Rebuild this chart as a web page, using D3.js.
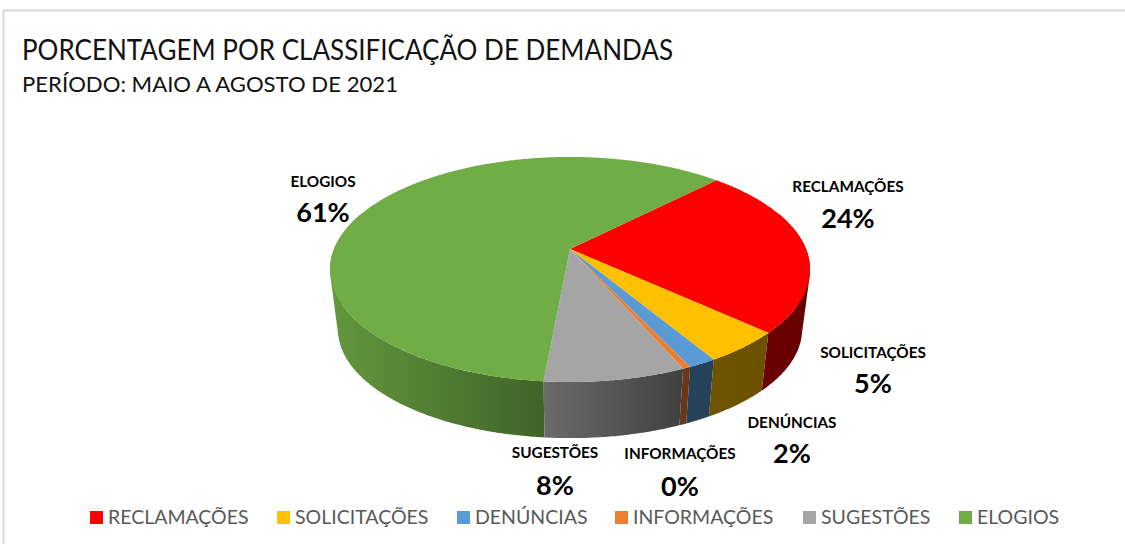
<!DOCTYPE html>
<html><head><meta charset="utf-8">
<script src="https://cdn.jsdelivr.net/npm/d3@7"></script>
<style>html,body{margin:0;padding:0;background:#fff;overflow:hidden}svg{display:block}text{font-family:Lato,"Open Sans",sans-serif}</style>
</head><body><svg id="c" width="1125" height="544"></svg>
<script>
const categories=["RECLAMAÇÕES","SOLICITAÇÕES","DENÚNCIAS","INFORMAÇÕES","SUGESTÕES","ELOGIOS"];
const values=[24.45,4.6,1.6,0.45,8.0,60.9];
const percentLabels=["24%","5%","2%","0%","8%","61%"];
const colors=["#ff0000","#ffc000","#5b9bd5","#ed7d31","#a5a5a5","#70ad47"];
const wallLight=[0.42,0.43,0.43,0.45,0.65,0.88];
const wallDark=[0.40,0.42,0.42,0.42,0.39,0.57];
const labelPos=[[848,187,219],[873,353,384],[792,423,454],[680,454,487],[555,453,486],[323,182,213]];
const legendX=[90,277,457,615,803,959];

const svg=d3.select("#c");
const defs=svg.append("defs");
const deg=Math.PI/180;
svg.append("path").attr("d","M3.5,544V10.5H1125").attr("fill","none").attr("stroke","#d9d9d9").attr("stroke-width",2);
svg.append("text").attr("x",22).attr("y",60).attr("font-size",28).attr("textLength",651).attr("lengthAdjust","spacingAndGlyphs").attr("fill","#111").text("PORCENTAGEM POR CLASSIFICAÇÃO DE DEMANDAS");
svg.append("text").attr("x",22).attr("y",91.5).attr("font-size",22).attr("textLength",376).attr("lengthAdjust","spacingAndGlyphs").attr("fill","#111").text("PERÍODO: MAIO A AGOSTO DE 2021");

const pie=d3.pie().sort(null).value(d=>d).startAngle(44.5*deg).endAngle(404.5*deg);
const arcs=pie(values);
const P=0.182;
function proj(a,rim){
  const u=Math.sin(a),v=-Math.cos(a),w=1-P*v;
  const s=rim?0.967:1,y0=rim?309.5:249;
  return [570+236*s*u/w,y0+108.8*s*v/w];
}
function samples(a0,a1){const n=Math.max(2,Math.ceil((a1-a0)/(0.5*deg)));return d3.range(n+1).map(i=>a0+(a1-a0)*i/n);}
const line=d3.line();
const frontMin=70*deg,frontMax=290*deg;
const walls=[];
arcs.forEach((d,i)=>{
  const lo=Math.max(d.startAngle,frontMin),hi=Math.min(d.endAngle,frontMax);
  if(hi>lo) walls.push({i,lo,hi});
});
walls.sort((a,b)=>Math.abs((b.lo+b.hi)/2-Math.PI)-Math.abs((a.lo+a.hi)/2-Math.PI));
walls.forEach(w=>{
  const as=samples(w.lo,w.hi);
  const top=as.map(a=>proj(a,false)),bot=as.map(a=>proj(a,true));
  const xs=top.concat(bot).map(p=>p[0]);
  const id="g"+w.i;
  const base=d3.rgb(colors[w.i]);
  const mul=k=>d3.rgb(base.r*k,base.g*k,base.b*k).formatHex();
  const g=defs.append("linearGradient").attr("id",id).attr("gradientUnits","userSpaceOnUse")
    .attr("x1",d3.min(xs)).attr("x2",d3.max(xs)).attr("y1",0).attr("y2",0);
  g.append("stop").attr("offset",0).attr("stop-color",mul(wallLight[w.i]));
  g.append("stop").attr("offset",1).attr("stop-color",mul(wallDark[w.i]));
  // swept quads with one orientation, so the wall reaches the silhouette tangent
  const quads=d3.range(as.length-1).map(k=>{
    const q=[top[k],top[k+1],bot[k+1],bot[k]];
    if(d3.polygonArea(q)<0) q.reverse();
    return line(q)+"Z";
  }).join("");
  svg.append("path").attr("d",quads).attr("fill",`url(#${id})`);
});
arcs.forEach((d,i)=>{
  const pts=samples(d.startAngle,d.endAngle).map(a=>proj(a,false));
  svg.append("path").attr("d",line([[570,249],...pts])+"Z").attr("fill",colors[i]);
});
categories.forEach((c,i)=>{
  const [x,y1,y2]=labelPos[i];
  svg.append("text").attr("x",x).attr("y",y1+5).attr("text-anchor","middle").attr("font-size",15.3).attr("font-weight",700).attr("fill","#000").text(c);
  svg.append("text").attr("x",x).attr("y",y2+9).attr("text-anchor","middle").attr("font-size",27).attr("font-weight",700).attr("fill","#000").text(percentLabels[i]);
  svg.append("rect").attr("x",legendX[i]).attr("y",511).attr("width",13).attr("height",13).attr("fill",colors[i]);
  svg.append("text").attr("x",legendX[i]+18).attr("y",524).attr("font-size",19.5).attr("fill","#595959").text(c);
});
</script></body></html>
